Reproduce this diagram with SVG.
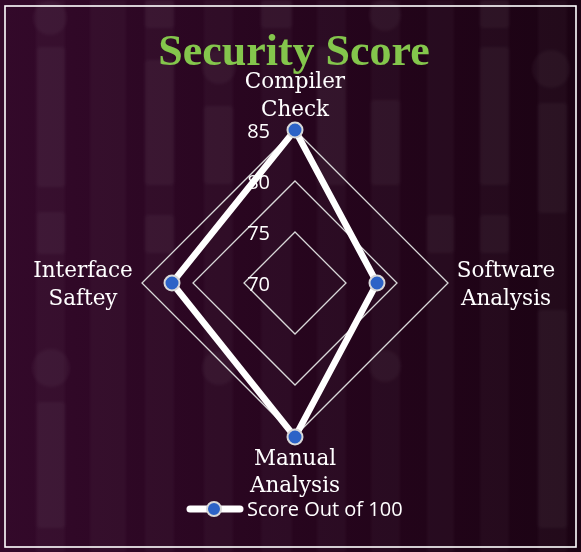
<svg xmlns="http://www.w3.org/2000/svg" width="581" height="552" viewBox="0 0 581 552">
  <defs>
    <linearGradient id="bg" x1="0" y1="0" x2="1" y2="0">
      <stop offset="0" stop-color="#33092a"/>
      <stop offset="0.5" stop-color="#27051e"/>
      <stop offset="1" stop-color="#1b0313"/>
    </linearGradient>
    <filter id="soft" x="-5%" y="-5%" width="110%" height="110%">
      <feGaussianBlur stdDeviation="1.8"/>
    </filter>
  </defs>
  <style>
    .stripe { fill: #ffffff; opacity: 0.03; }
    .deco { fill: #ffffff; opacity: 0.04; }
    .frame { fill: none; stroke: #ffffff; stroke-width: 1.6; }
    .ring { fill: none; stroke: #d9d9d9; stroke-width: 1.3; }
    .axis { font-family: "DejaVu Serif", serif; font-size: 21.5px; fill: #ffffff; text-anchor: middle; }
    .tick { font-family: "Open Sans", "Liberation Sans", sans-serif; font-size: 20px; fill: #ffffff; text-anchor: end; }
    .series { fill: none; stroke: #ffffff; stroke-width: 6.5; stroke-linejoin: round; }
    .pt { fill: #2c63c7; stroke: #d9d9d9; stroke-width: 2; }
  </style>

  <!-- background with soft column texture -->
  <g id="background">
    <rect x="0" y="0" width="581" height="552" fill="url(#bg)"/>
    <g filter="url(#soft)">
      <rect class="stripe" x="36" y="0" width="29" height="552"/>
      <rect class="stripe" x="90" y="0" width="36" height="552"/>
      <rect class="stripe" x="145" y="0" width="29" height="552"/>
      <rect class="stripe" x="204" y="0" width="29" height="552"/>
      <rect class="stripe" x="261" y="0" width="31" height="552"/>
      <rect class="stripe" x="317" y="0" width="29" height="552"/>
      <rect class="stripe" x="371" y="0" width="29" height="552"/>
      <rect class="stripe" x="427" y="0" width="27" height="552"/>
      <rect class="stripe" x="480" y="0" width="29" height="552"/>
      <rect class="stripe" x="538" y="0" width="29" height="552"/>

      <circle class="deco" cx="50" cy="18" r="17"/>
      <rect class="deco" x="37" y="47" width="28" height="140" rx="3"/>
      <rect class="deco" x="37" y="212" width="28" height="42" rx="3"/>
      <circle class="deco" cx="51" cy="368" r="19"/>
      <rect class="deco" x="37" y="402" width="28" height="126" rx="3"/>

      <rect class="deco" x="145" y="0" width="29" height="28" rx="3"/>
      <rect class="deco" x="145" y="60" width="29" height="125" rx="3"/>
      <rect class="deco" x="145" y="215" width="29" height="38" rx="3"/>

      <circle class="deco" cx="219" cy="67" r="17"/>
      <rect class="deco" x="204" y="106" width="29" height="78" rx="3"/>
      <circle class="deco" cx="219" cy="368" r="17"/>

      <rect class="deco" x="261" y="0" width="31" height="28" rx="3"/>
      <rect class="deco" x="317" y="47" width="29" height="138" rx="3"/>

      <circle class="deco" cx="385" cy="15" r="16"/>
      <rect class="deco" x="371" y="100" width="29" height="85" rx="3"/>
      <circle class="deco" cx="385" cy="366" r="16"/>

      <rect class="deco" x="427" y="215" width="27" height="38" rx="3"/>

      <rect class="deco" x="480" y="0" width="29" height="28" rx="3"/>
      <rect class="deco" x="480" y="47" width="29" height="138" rx="3"/>
      <rect class="deco" x="480" y="215" width="29" height="38" rx="3"/>

      <circle class="deco" cx="551" cy="69" r="19"/>
      <rect class="deco" x="538" y="103" width="29" height="110" rx="3"/>
      <rect class="deco" x="538" y="310" width="29" height="218" rx="3"/>
    </g>
  </g>

  <rect id="frame" class="frame" x="5" y="6" width="571" height="541"/>

  <g id="title">
    <text x="294" y="65" font-family="'Liberation Serif', serif" font-weight="bold" font-size="44" fill="#84c64c" text-anchor="middle">Security Score</text>
  </g>

  <!-- radar grid: rings at 75, 80, 85 around the 70 centre -->
  <g id="grid">
    <path class="ring" d="M295,232 L346,283 L295,334 L244,283 Z"/>
    <path class="ring" d="M295,181 L397,283 L295,385 L193,283 Z"/>
    <path class="ring" d="M295,130 L448,283 L295,436 L142,283 Z"/>
  </g>

  <g id="ticks">
    <text class="tick" x="270" y="138">85</text>
    <text class="tick" x="270" y="189">80</text>
    <text class="tick" x="270" y="240">75</text>
    <text class="tick" x="270" y="291">70</text>
  </g>

  <g id="axis-labels">
    <g id="compiler-check">
      <text class="axis" x="295" y="88">Compiler</text>
      <text class="axis" x="295" y="116">Check</text>
    </g>
    <g id="software-analysis">
      <text class="axis" x="506" y="277">Software</text>
      <text class="axis" x="506" y="305">Analysis</text>
    </g>
    <g id="manual-analysis">
      <text class="axis" x="295" y="465">Manual</text>
      <text class="axis" x="295" y="492">Analysis</text>
    </g>
    <g id="interface-saftey">
      <text class="axis" x="83" y="277">Interface</text>
      <text class="axis" x="83" y="305">Saftey</text>
    </g>
  </g>

  <!-- series: Compiler 85, Software 78, Manual 85, Interface 82 -->
  <g id="connectors">
    <path class="series" d="M295,130 L377,283 L295,437 L172,283 Z"/>
  </g>
  <g id="points">
    <circle id="pt-compiler" class="pt" cx="295" cy="130" r="7.5"/>
    <circle id="pt-software" class="pt" cx="377" cy="283" r="7.5"/>
    <circle id="pt-manual" class="pt" cx="295" cy="437" r="7.5"/>
    <circle id="pt-interface" class="pt" cx="172" cy="283" r="7.5"/>
  </g>

  <g id="legend">
    <line x1="190" y1="509" x2="240" y2="509" stroke="#ffffff" stroke-width="7" stroke-linecap="round"/>
    <circle class="pt" cx="214" cy="509" r="7"/>
    <text x="247" y="516" font-family="'Open Sans', 'Liberation Sans', sans-serif" font-size="20" fill="#ffffff">Score Out of 100</text>
  </g>
</svg>
